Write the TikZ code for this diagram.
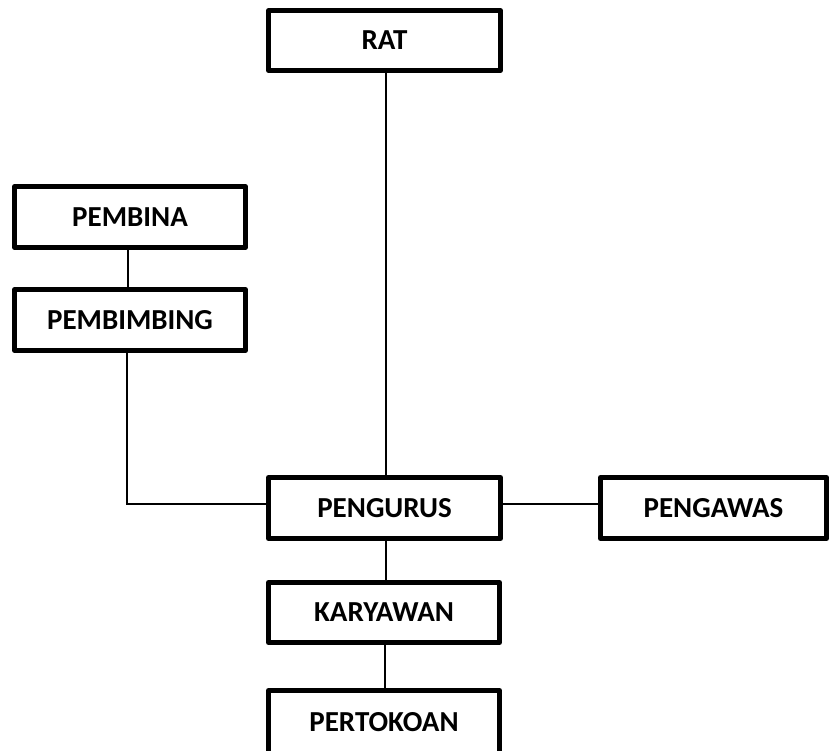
\documentclass[tikz,border=0pt]{standalone}
\usepackage{fontspec}
\setmainfont{Carlito}
\begin{document}
\begin{tikzpicture}[x=1pt,y=-1pt,
  box/.style={draw=black,line width=5pt,line join=round,rectangle,fill=white,
    font=\bfseries\fontsize{29}{34}\selectfont,inner sep=0pt},
  conn/.style={draw=black,line width=1.5pt}]
\useasboundingbox (0,0) rectangle (829,751);
\node[box,minimum width=231.5pt,minimum height=60pt] (rat) at (384.5,40.5) {RAT};
\node[box,minimum width=230.5pt,minimum height=61pt] (pembina) at (130,217) {PEMBINA};
\node[box,minimum width=230.5pt,minimum height=61pt] (pembimbing) at (130,320) {PEMBIMBING};
\node[box,minimum width=232pt,minimum height=61pt] (pengurus) at (384.5,508) {PENGURUS};
\node[box,minimum width=226pt,minimum height=61pt] (pengawas) at (713.5,508) {PENGAWAS};
\node[box,minimum width=231pt,minimum height=60pt] (karyawan) at (384,612.5) {KARYAWAN};
\node[box,minimum width=231pt,minimum height=62.5pt] (pertokoan) at (384,721.75) {PERTOKOAN};
\coordinate (corner) at (127,504);
\draw[conn] (rat.south -| 386,0) -- (pengurus.north -| 386,0);
\draw[conn] (pembina.south -| 128,0) -- (pembimbing.north -| 128,0);
\draw[conn] (pembimbing.south -| corner) -- (corner) -- (corner -| pengurus.west);
\draw[conn] (corner -| pengurus.east) -- (corner -| pengawas.west);
\draw[conn] (pengurus.south -| 386,0) -- (karyawan.north -| 386,0);
\draw[conn] (karyawan.south -| 385,0) -- (pertokoan.north -| 385,0);
\end{tikzpicture}
\end{document}
